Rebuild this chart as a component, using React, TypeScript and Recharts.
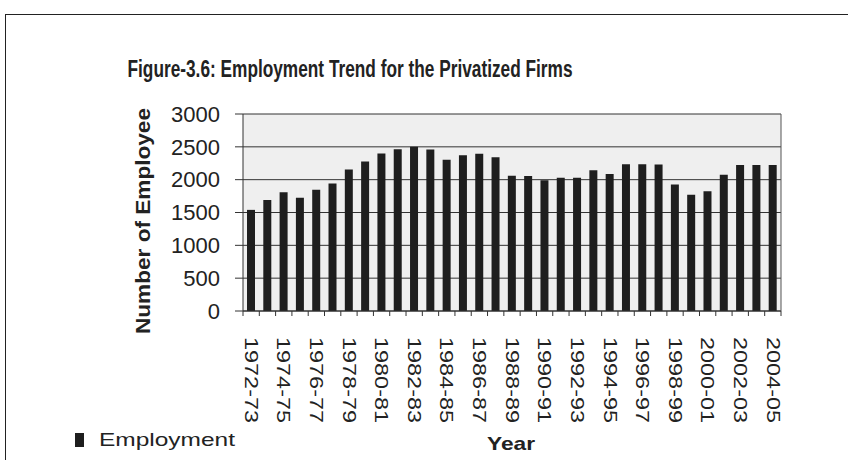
import { BarChart, Bar, XAxis, YAxis, CartesianGrid, Legend, Customized } from 'recharts';

const years = [
  '1972-73', '1973-74', '1974-75', '1975-76', '1976-77', '1977-78', '1978-79', '1979-80',
  '1980-81', '1981-82', '1982-83', '1983-84', '1984-85', '1985-86', '1986-87', '1987-88',
  '1988-89', '1989-90', '1990-91', '1991-92', '1992-93', '1993-94', '1994-95', '1995-96',
  '1996-97', '1997-98', '1998-99', '1999-00', '2000-01', '2001-02', '2002-03', '2003-04',
  '2004-05',
];

const employment = [
  1540, 1690, 1810, 1725, 1845, 1940, 2155, 2275,
  2400, 2465, 2500, 2460, 2305, 2370, 2395, 2340,
  2060, 2055, 1990, 2030, 2030, 2145, 2085, 2235,
  2235, 2230, 1925, 1770, 1825, 2075, 2225, 2225,
  2225,
];

const yTicks = [0, 500, 1000, 1500, 2000, 2500, 3000];

const FONT = "Arial, 'Liberation Sans', sans-serif";
const INK = '#222';

const chartData = years.map((year, i) => ({ year, employment: employment[i] }));

// Excel style: tick marks between categories, label on every other category
function YearTick(props: any) {
  const { x, y, payload, index } = props;
  const half = payload?.offset ?? 0;
  const isLast = index === years.length - 1;
  return (
    <g>
      <line x1={x - half} x2={x - half} y1={y - 5} y2={y} stroke="#333" />
      {isLast && <line x1={x + half} x2={x + half} y1={y - 5} y2={y} stroke="#333" />}
      {index % 2 === 0 && (
        <text
          transform={`translate(${x},${y + 21}) rotate(90)`}
          dy="0.35em"
          textAnchor="start"
          fontSize={18}
          fontFamily={FONT}
          fill={INK}
          textLength={86}
          lengthAdjust="spacingAndGlyphs"
        >
          {payload.value}
        </text>
      )}
    </g>
  );
}

function LegendBox() {
  return (
    <svg width={180} height={26}>
      <rect x={5} y={5} width={9} height={14} fill="#1e1e1e" />
      <text x={29} y={18} fontSize={19} fontFamily={FONT} fill={INK} textLength={136} lengthAdjust="spacingAndGlyphs">
        Employment
      </text>
    </svg>
  );
}

function Titles() {
  return (
    <g fontFamily={FONT} fill={INK}>
      <text x={350} y={77} fontSize={23} fontWeight="bold" textAnchor="middle" textLength={445} lengthAdjust="spacingAndGlyphs">
        Figure-3.6: Employment Trend for the Privatized Firms
      </text>
      <text
        transform="translate(150,221) rotate(-90)"
        fontSize={20}
        fontWeight="bold"
        textAnchor="middle"
        textLength={226}
        lengthAdjust="spacingAndGlyphs"
      >
        Number of Employee
      </text>
      <text x={511} y={450} fontSize={19} fontWeight="bold" textAnchor="middle" textLength={48} lengthAdjust="spacingAndGlyphs">
        Year
      </text>
    </g>
  );
}

export default function App() {
  return (
    <div style={{ position: 'absolute', left: 0, top: 0, width: 848, height: 460, overflow: 'hidden', background: '#fff' }}>
      <div style={{ position: 'absolute', left: 5, top: 14, width: 900, height: 500, border: '1.5px solid #222' }} />
      <BarChart
        width={848}
        height={460}
        data={chartData}
        margin={{ top: 114, right: 0, left: 0, bottom: 0 }}
        barSize={8}
      >
        <CartesianGrid yAxisId="left" vertical={false} stroke="#333" fill="#efefef" />
        <XAxis
          dataKey="year"
          height={149}
          interval={0}
          tickLine={false}
          tickSize={5}
          tickMargin={0}
          tick={<YearTick />}
          axisLine={{ stroke: '#333' }}
        />
        <YAxis
          yAxisId="left"
          width={243}
          domain={[0, 3000]}
          ticks={yTicks}
          tickSize={8}
          tickMargin={15}
          tick={{ fontSize: 22, fill: INK, fontFamily: FONT }}
          tickLine={{ stroke: '#333' }}
          axisLine={{ stroke: '#333' }}
        />
        <YAxis
          yAxisId="right"
          orientation="right"
          width={67}
          domain={[0, 3000]}
          tick={false}
          tickLine={false}
          axisLine={{ stroke: '#555' }}
        />
        <Legend
          layout="horizontal"
          verticalAlign="middle"
          content={<LegendBox />}
          wrapperStyle={{ left: 70, top: 428, width: 180, height: 26 }}
        />
        <Bar yAxisId="left" dataKey="employment" name="Employment" fill="#1e1e1e" isAnimationActive={false} />
        <Customized component={<Titles />} />
      </BarChart>
    </div>
  );
}
